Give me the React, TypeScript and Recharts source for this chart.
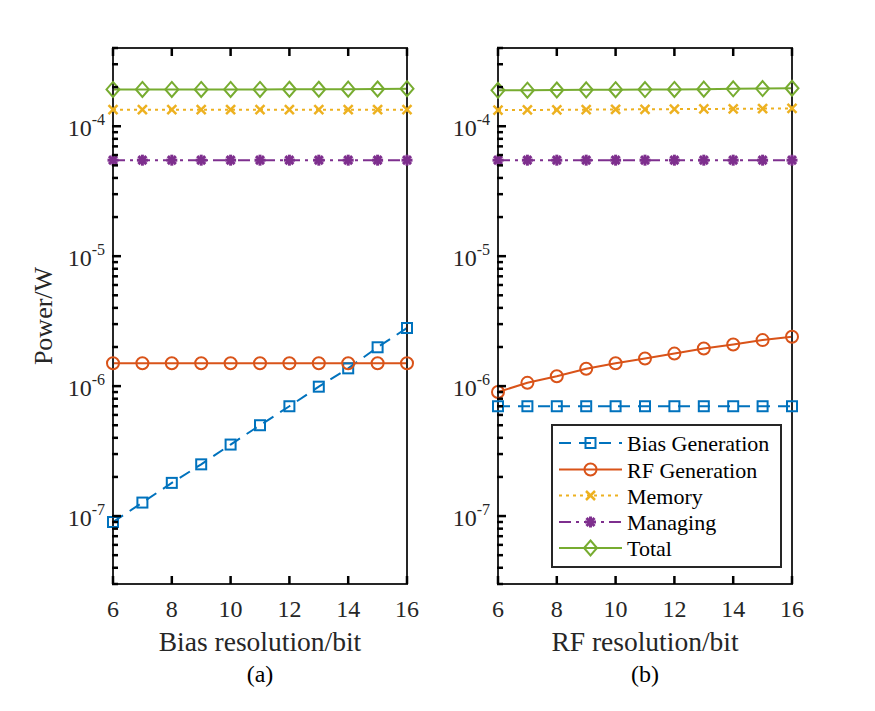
import React from 'react';
import { LineChart, Line, XAxis, YAxis, Legend } from 'recharts';

// ---------- data ----------
const bits = [6, 7, 8, 9, 10, 11, 12, 13, 14, 15, 16];
const xTicks = [6, 8, 10, 12, 14, 16];
const mantissas = [1, 2, 3, 4, 5, 6, 7, 8, 9];
const decades = [1e-8, 1e-7, 1e-6, 1e-5, 1e-4];
const yDomain: [number, number] = [3e-8, 4e-4];

const seriesNames = ['Bias Generation', 'RF Generation', 'Memory', 'Managing', 'Total'];

// (a) sweep of bias resolution
const biasGenA = [9.0e-8, 1.27e-7, 1.8e-7, 2.5e-7, 3.55e-7, 5.0e-7, 7.0e-7, 9.9e-7, 1.37e-6, 1.99e-6, 2.8e-6];
const rfGenA = [1.5e-6, 1.5e-6, 1.5e-6, 1.5e-6, 1.5e-6, 1.5e-6, 1.5e-6, 1.5e-6, 1.5e-6, 1.5e-6, 1.5e-6];
const memoryA = [1.34e-4, 1.34e-4, 1.34e-4, 1.34e-4, 1.34e-4, 1.34e-4, 1.34e-4, 1.34e-4, 1.34e-4, 1.34e-4, 1.34e-4];
const managingA = [5.48e-5, 5.48e-5, 5.48e-5, 5.48e-5, 5.48e-5, 5.48e-5, 5.48e-5, 5.48e-5, 5.48e-5, 5.48e-5, 5.48e-5];
const totalA = [1.92e-4, 1.92e-4, 1.92e-4, 1.92e-4, 1.92e-4, 1.92e-4, 1.925e-4, 1.925e-4, 1.93e-4, 1.935e-4, 1.945e-4];

// (b) sweep of RF resolution
const biasGenB = [7.0e-7, 7.0e-7, 7.0e-7, 7.0e-7, 7.0e-7, 7.0e-7, 7.0e-7, 7.0e-7, 7.0e-7, 7.0e-7, 7.0e-7];
const rfGenB = [9.0e-7, 1.06e-6, 1.19e-6, 1.36e-6, 1.5e-6, 1.63e-6, 1.78e-6, 1.95e-6, 2.09e-6, 2.26e-6, 2.4e-6];
const memoryB = [1.33e-4, 1.334e-4, 1.338e-4, 1.342e-4, 1.346e-4, 1.35e-4, 1.354e-4, 1.358e-4, 1.362e-4, 1.366e-4, 1.37e-4];
const managingB = [5.48e-5, 5.48e-5, 5.48e-5, 5.48e-5, 5.48e-5, 5.48e-5, 5.48e-5, 5.48e-5, 5.48e-5, 5.48e-5, 5.48e-5];
const totalB = [1.89e-4, 1.895e-4, 1.9e-4, 1.905e-4, 1.91e-4, 1.915e-4, 1.92e-4, 1.93e-4, 1.94e-4, 1.95e-4, 1.96e-4];

const yTicks: number[] = [];
decades.forEach((d) => mantissas.forEach((m) => {
  const v = m * d;
  if (v >= yDomain[0] * 0.999 && v <= yDomain[1] * 1.001) yTicks.push(v);
}));

const buildRows = (b: number[], r: number[], m: number[], g: number[], t: number[]) =>
  bits.map((x, i) => ({ x, bias: b[i], rf: r[i], mem: m[i], man: g[i], tot: t[i] }));

const dataA = buildRows(biasGenA, rfGenA, memoryA, managingA, totalA);
const dataB = buildRows(biasGenB, rfGenB, memoryB, managingB, totalB);

// ---------- styles ----------
const FONT = '"Liberation Serif", "Times New Roman", serif';
const INK = '#262626';
const TICK = '#000000';
const axisLineStyle = { stroke: INK, strokeWidth: 2, strokeLinecap: 'square' as const };

type Marker = 'square' | 'circle' | 'x' | 'star' | 'diamond';
const series: { key: string; color: string; dash?: string; marker: Marker }[] = [
  { key: 'bias', color: '#0072BD', dash: '12 8', marker: 'square' },
  { key: 'rf', color: '#D95319', marker: 'circle' },
  { key: 'mem', color: '#EDB120', dash: '3 4', marker: 'x' },
  { key: 'man', color: '#7E2F8E', dash: '12 5 3 5', marker: 'star' },
  { key: 'tot', color: '#77AC30', marker: 'diamond' },
];

function MarkerShape({ kind, cx, cy, color }: { kind: Marker; cx: number; cy: number; color: string }) {
  switch (kind) {
    case 'square':
      return <rect x={cx - 5} y={cy - 5} width={10} height={10} fill="none" stroke={color} strokeWidth={2} />;
    case 'circle':
      return <circle cx={cx} cy={cy} r={6} fill="none" stroke={color} strokeWidth={2} />;
    case 'x':
      return (
        <g stroke={color} strokeWidth={2.5}>
          <line x1={cx - 4.5} y1={cy - 4.5} x2={cx + 4.5} y2={cy + 4.5} />
          <line x1={cx - 4.5} y1={cy + 4.5} x2={cx + 4.5} y2={cy - 4.5} />
        </g>
      );
    case 'star':
      return (
        <g stroke={color} strokeWidth={3}>
          <line x1={cx - 5.5} y1={cy} x2={cx + 5.5} y2={cy} />
          <line x1={cx} y1={cy - 5.5} x2={cx} y2={cy + 5.5} />
          <line x1={cx - 4} y1={cy - 4} x2={cx + 4} y2={cy + 4} />
          <line x1={cx - 4} y1={cy + 4} x2={cx + 4} y2={cy - 4} />
        </g>
      );
    case 'diamond':
    default:
      return (
        <path
          d={`M${cx},${cy - 7.5} L${cx + 6.5},${cy} L${cx},${cy + 7.5} L${cx - 6.5},${cy} Z`}
          fill="none"
          stroke={color}
          strokeWidth={2}
        />
      );
  }
}

const isMajor = (v: number) => {
  const l = Math.log10(v);
  return Math.abs(l - Math.round(l)) < 1e-6;
};

const BottomTick = (p: any) => (
  <g>
    <rect x={p.x - 1.25} y={p.y - 8} width={2.5} height={8} fill={TICK} />
    <text x={p.x} y={p.y + 33} textAnchor="middle" fontFamily={FONT} fontSize={24} fill={INK}>
      {p.payload.value}
    </text>
  </g>
);

const TopTick = (p: any) => <rect x={p.x - 1.25} y={p.y} width={2.5} height={8} fill={TICK} />;

const LeftTick = (p: any) => {
  const v = p.payload.value;
  const major = isMajor(v);
  const e = Math.round(Math.log10(v));
  return (
    <g>
      <rect x={p.x - 1} y={p.y - 1.25} width={major ? 9 : 6} height={2.5} fill={TICK} />
      {major && (
        <text x={p.x - 8} y={p.y + 10} textAnchor="end" fontFamily={FONT} fontSize={24} fill={INK}>
          10
          <tspan dy={-11} fontSize={16}>{`-${Math.abs(e)}`}</tspan>
        </text>
      )}
    </g>
  );
};

const RightTick = (p: any) => {
  const v = p.payload.value;
  const major = isMajor(v);
  const len = major ? 9 : 6;
  return <rect x={p.x + 1 - len} y={p.y - 1.25} width={len} height={2.5} fill={TICK} />;
};

function LegendBox() {
  const rowsY = [19, 45.5, 71.5, 98, 124];
  return (
    <svg width={231} height={144} style={{ display: 'block' }}>
      <rect x={1} y={1} width={229} height={142} fill="#ffffff" stroke={INK} strokeWidth={2} />
      {series.map((s, i) => (
        <g key={s.key}>
          <line x1={8} x2={71} y1={rowsY[i]} y2={rowsY[i]} stroke={s.color} strokeWidth={2} strokeDasharray={s.dash} />
          <MarkerShape kind={s.marker} cx={39.5} cy={rowsY[i]} color={s.color} />
          <text x={76} y={rowsY[i] + 8} fontFamily={FONT} fontSize={22} fill="#000">
            {seriesNames[i]}
          </text>
        </g>
      ))}
    </svg>
  );
}

function Panel(props: {
  data: any[];
  left: number;
  width: number;
  margin: { top: number; right: number; bottom: number; left: number };
  xTitle: string;
  sub: string;
  yTitle?: string;
  legend?: boolean;
}) {
  const { data, left, width, margin, xTitle, sub, yTitle, legend } = props;
  const m = { top: margin.top - 1, right: margin.right - 1, bottom: margin.bottom - 1, left: margin.left - 1 };
  return (
    <div style={{ position: 'absolute', left, top: 0, width, height: 711 }}>
      <LineChart width={width} height={711} data={data} margin={m}>
        <XAxis
          dataKey="x"
          type="number"
          domain={[6, 16]}
          ticks={xTicks}
          interval={0}
          height={1}
          tickSize={0}
          tickMargin={0}
          tickLine={false}
          axisLine={axisLineStyle}
          tick={BottomTick}
          label={(lp: any) => {
            const vb = lp.viewBox;
            const cx = vb.x + vb.width / 2;
            return (
              <g>
                <text x={cx} y={vb.y + 67} textAnchor="middle" fontFamily={FONT} fontSize={27.5} fill={INK}>
                  {xTitle}
                </text>
                <text x={cx} y={vb.y + 98} textAnchor="middle" fontFamily={FONT} fontSize={24} fill="#000">
                  {sub}
                </text>
              </g>
            );
          }}
        />
        <XAxis
          xAxisId="top"
          orientation="top"
          dataKey="x"
          type="number"
          domain={[6, 16]}
          ticks={xTicks}
          interval={0}
          height={1}
          tickSize={0}
          tickMargin={0}
          tickLine={false}
          axisLine={axisLineStyle}
          tick={TopTick}
        />
        <YAxis
          scale="log"
          type="number"
          domain={yDomain}
          ticks={yTicks}
          interval={0}
          width={1}
          tickSize={0}
          tickMargin={0}
          tickLine={false}
          axisLine={axisLineStyle}
          tick={LeftTick}
          label={
            yTitle
              ? (lp: any) => {
                  const vb = lp.viewBox;
                  const tx = vb.x - 60;
                  const ty = vb.y + vb.height / 2;
                  return (
                    <text
                      x={tx}
                      y={ty}
                      textAnchor="middle"
                      transform={`rotate(-90, ${tx}, ${ty})`}
                      fontFamily={FONT}
                      fontSize={26}
                      fill={INK}
                    >
                      {yTitle}
                    </text>
                  );
                }
              : undefined
          }
        />
        <YAxis
          yAxisId="right"
          orientation="right"
          scale="log"
          type="number"
          domain={yDomain}
          ticks={yTicks}
          interval={0}
          width={1}
          tickSize={0}
          tickMargin={0}
          tickLine={false}
          axisLine={axisLineStyle}
          tick={RightTick}
        />
        {series.map((s, i) => (
          <Line
            key={s.key}
            dataKey={s.key}
            name={seriesNames[i]}
            type="linear"
            stroke={s.color}
            strokeWidth={2}
            strokeDasharray={s.dash}
            isAnimationActive={false}
            activeDot={false}
            dot={(dp: any) => (
              <g key={`${s.key}-${dp.index}`}>
                <MarkerShape kind={s.marker} cx={dp.cx} cy={dp.cy} color={s.color} />
              </g>
            )}
          />
        ))}
        {legend && (
          <Legend
            layout="horizontal"
            verticalAlign="middle"
            align="center"
            content={() => <LegendBox />}
            wrapperStyle={{ position: 'absolute', left: 114, top: 424, width: 231, height: 144, margin: 0 }}
          />
        )}
      </LineChart>
    </div>
  );
}

export default function App() {
  return (
    <div style={{ position: 'absolute', left: 0, top: 0, width: 875, height: 711, background: '#ffffff' }}>
      <Panel
        data={dataA}
        left={0}
        width={437}
        margin={{ top: 48, right: 30, bottom: 127, left: 113 }}
        xTitle="Bias resolution/bit"
        sub="(a)"
        yTitle="Power/W"
      />
      <Panel
        data={dataB}
        left={437}
        width={438}
        margin={{ top: 48, right: 83, bottom: 127, left: 61 }}
        xTitle="RF resolution/bit"
        sub="(b)"
        legend
      />
    </div>
  );
}
